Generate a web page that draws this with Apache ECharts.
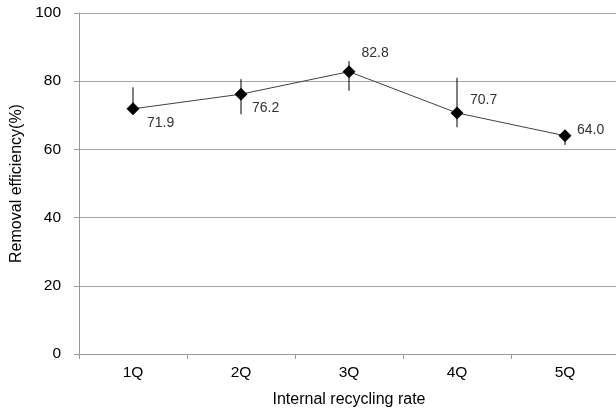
<!DOCTYPE html>
<html>
<head>
<meta charset="utf-8">
<script src="https://cdn.jsdelivr.net/npm/echarts@6/dist/echarts.min.js"></script>
<style>html,body{margin:0;padding:0;background:#fff;}#c{width:616px;height:412px;}</style>
</head>
<body>
<div id="c"></div>
<script>
var categories = ['1Q', '2Q', '3Q', '4Q', '5Q'];
var efficiency = [71.9, 76.2, 82.8, 70.7, 64.0];
var errHigh = [78.2, 80.6, 85.9, 81.0, 65.0];
var errLow = [71.0, 70.3, 77.2, 66.5, 61.3];
var yTicks = [0, 20, 40, 60, 80, 100];

var labelOffsets = [[7.5, 14], [4.5, 14], [6, -19], [6.5, -13], [5.5, -6]];

var chart = echarts.init(document.getElementById('c'));
var font = 'Liberation Sans, Arial, sans-serif';
chart.setOption({
  animation: false,
  grid: { left: 79, top: 13, width: 540, height: 341, containLabel: false, outerBoundsMode: 'none' },
  xAxis: {
    type: 'category',
    data: categories,
    name: 'Internal recycling rate',
    nameLocation: 'middle',
    nameGap: 38,
    nameTextStyle: { fontFamily: font, fontSize: 16, color: '#000' },
    axisLine: { lineStyle: { color: '#999', width: 1 } },
    axisTick: { show: true, length: 5, alignWithLabel: false, lineStyle: { color: '#999' } },
    axisLabel: { fontFamily: font, fontSize: 15.5, color: '#000', margin: 11 },
    boundaryGap: true
  },
  yAxis: {
    type: 'value',
    min: yTicks[0],
    max: yTicks[yTicks.length - 1],
    interval: 20,
    name: 'Removal efficiency(%)',
    nameLocation: 'middle',
    nameGap: 54,
    nameRotate: 90,
    nameTextStyle: { fontFamily: font, fontSize: 16, color: '#000' },
    axisLine: { show: true, lineStyle: { color: '#999', width: 1 } },
    axisTick: { show: true, length: 5, lineStyle: { color: '#999' } },
    axisLabel: { fontFamily: font, fontSize: 15.5, color: '#000', margin: 18 },
    splitLine: { show: true, lineStyle: { color: '#a6a6a6', width: 1 } }
  },
  series: [
    {
      type: 'custom',
      data: categories.map(function (c, i) { return [i, errLow[i], errHigh[i]]; }),
      renderItem: function (params, api) {
        var x = api.value(0);
        var p1 = api.coord([x, api.value(1)]);
        var p2 = api.coord([x, api.value(2)]);
        return {
          type: 'line',
          shape: { x1: p1[0], y1: p1[1], x2: p2[0], y2: p2[1] },
          style: { stroke: '#000', lineWidth: 1 }
        };
      },
      z: 1
    },
    {
      type: 'line',
      data: efficiency.map(function (v, i) {
        return {
          value: v,
          label: { offset: labelOffsets[i] }
        };
      }),
      symbol: 'diamond',
      symbolSize: 13,
      itemStyle: { color: '#000' },
      lineStyle: { color: '#404040', width: 1 },
      label: {
        show: true,
        position: 'right',
        distance: 0,
        align: 'left',
        formatter: function (p) { return p.value.toFixed(1); },
        fontFamily: font,
        fontSize: 14,
        color: '#333'
      },
      z: 2
    }
  ]
});
</script>
</body>
</html>
